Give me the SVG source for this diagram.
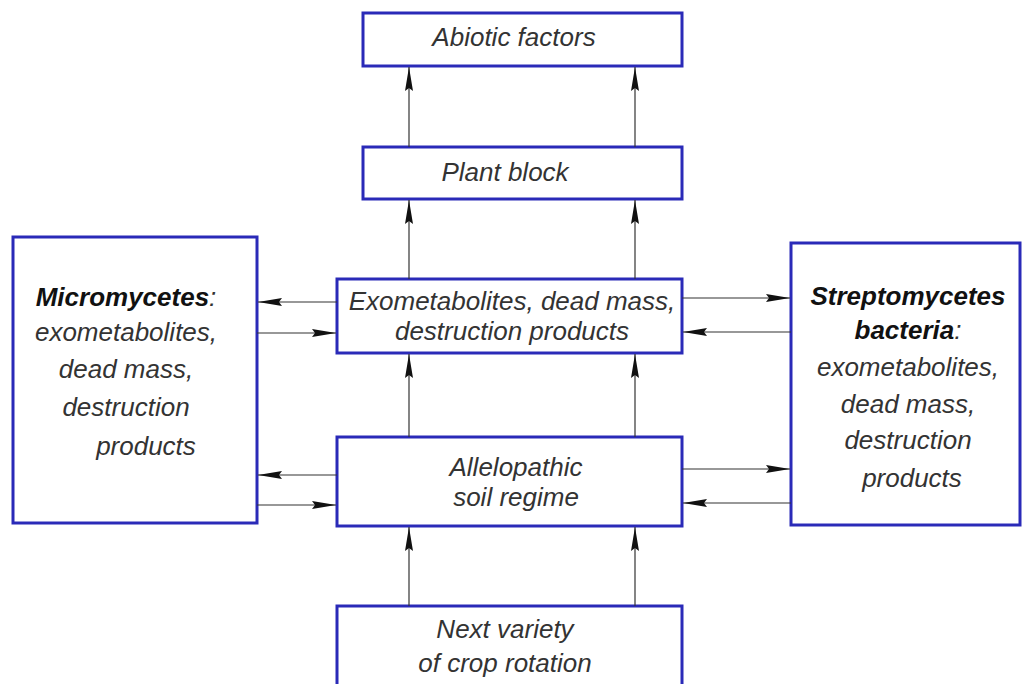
<svg xmlns="http://www.w3.org/2000/svg" width="1023" height="684" viewBox="0 0 1023 684">
<style>
.box{fill:#fff;stroke:#2a2ab8;stroke-width:3}
.t{font-family:"Liberation Sans",Arial,sans-serif;font-style:italic;font-size:26px;fill:#333;text-anchor:middle}
.b{font-weight:bold;fill:#111}
.c{stroke:#333;stroke-width:1.2;fill:none;marker-end:url(#ah)}
</style>
<defs>
<marker id="ah" viewBox="0 0 24 9" refX="24" refY="4.5" markerWidth="24" markerHeight="9" markerUnits="userSpaceOnUse" orient="auto">
<path d="M0,0.5 L24,4.5 L0,8.5 L3,4.5 Z" fill="#111"/>
</marker>
</defs>
<rect width="1023" height="684" fill="#fff"/>
<g id="abiotic"><rect class="box" x="363" y="13" width="319" height="53"/><text class="t" x="514" y="46">Abiotic factors</text></g>
<g id="plant"><rect class="box" x="363" y="147" width="319" height="52"/><text class="t" x="505" y="181">Plant block</text></g>
<g id="exo"><rect class="box" x="337" y="279" width="345" height="74"/><text class="t" x="512" y="310">Exometabolites, dead mass,</text><text class="t" x="512" y="340">destruction products</text></g>
<g id="allelo"><rect class="box" x="337" y="437" width="345" height="89"/><text class="t" x="516" y="476">Allelopathic</text><text class="t" x="516" y="506">soil regime</text></g>
<g id="next"><rect class="box" x="337" y="606" width="345" height="90"/><text class="t" x="505" y="638">Next variety</text><text class="t" x="505" y="672">of crop rotation</text></g>
<g id="micro"><rect class="box" x="13" y="237" width="244" height="286"/>
<text class="t b" x="126" y="306">Micromycetes<tspan font-weight="normal" fill="#333">:</tspan></text>
<text class="t" x="126" y="341">exometabolites,</text>
<text class="t" x="126" y="378">dead mass,</text>
<text class="t" x="126" y="416">destruction</text>
<text class="t" x="146" y="455">products</text></g>
<g id="strepto"><rect class="box" x="791" y="243" width="229" height="282"/>
<text class="t b" x="908" y="305">Streptomycetes</text>
<text class="t b" x="908" y="339">bacteria<tspan font-weight="normal" fill="#333">:</tspan></text>
<text class="t" x="908" y="376">exometabolites,</text>
<text class="t" x="908" y="413">dead mass,</text>
<text class="t" x="908" y="449">destruction</text>
<text class="t" x="912" y="487">products</text></g>
<g id="connectors">
<line class="c" x1="409" y1="147" x2="409" y2="67"/>
<line class="c" x1="635" y1="147" x2="635" y2="67"/>
<line class="c" x1="409" y1="279" x2="409" y2="200"/>
<line class="c" x1="635" y1="279" x2="635" y2="200"/>
<line class="c" x1="409" y1="437" x2="409" y2="354"/>
<line class="c" x1="635" y1="437" x2="635" y2="354"/>
<line class="c" x1="409" y1="606" x2="409" y2="527"/>
<line class="c" x1="635" y1="606" x2="635" y2="527"/>
<line class="c" x1="337" y1="302" x2="258" y2="302"/>
<line class="c" x1="257" y1="333" x2="336" y2="333"/>
<line class="c" x1="337" y1="475" x2="258" y2="475"/>
<line class="c" x1="257" y1="505" x2="336" y2="505"/>
<line class="c" x1="682" y1="298" x2="790" y2="298"/>
<line class="c" x1="791" y1="332" x2="683" y2="332"/>
<line class="c" x1="682" y1="469" x2="790" y2="469"/>
<line class="c" x1="791" y1="503" x2="683" y2="503"/>
</g>
</svg>
